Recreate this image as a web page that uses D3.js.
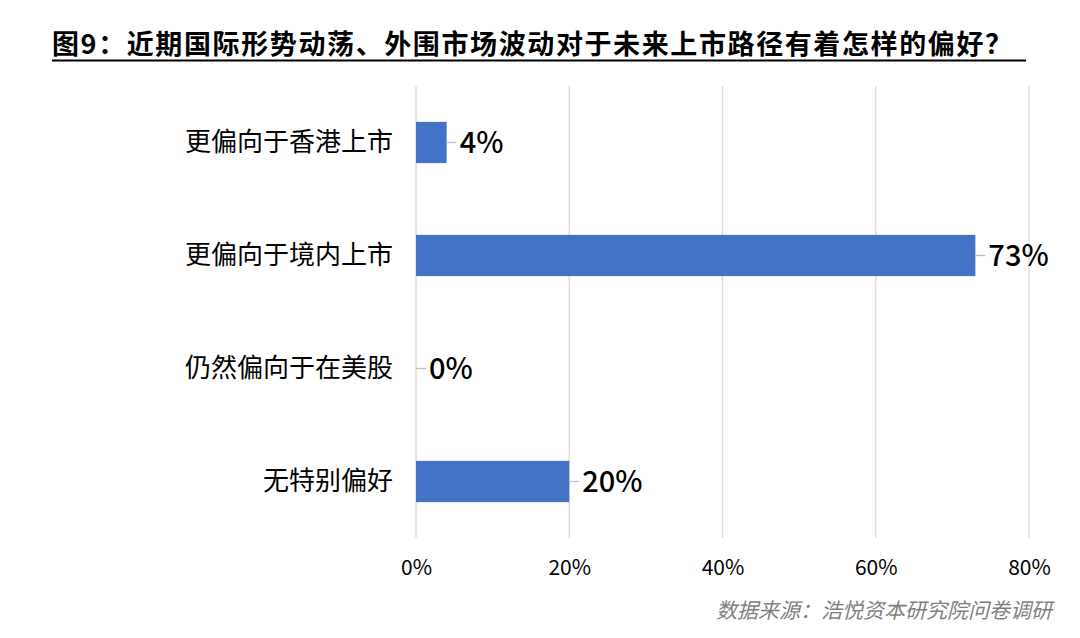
<!DOCTYPE html>
<html>
<head>
<meta charset="utf-8">
<script src="https://cdn.jsdelivr.net/npm/d3@7"></script>
<style>
  body { margin: 0; background: #fff; }
  text { font-family: "Noto Sans CJK SC", "Noto Sans", sans-serif; }
</style>
</head>
<body>
<svg class="chart"></svg>
<script>
// categories and shares (percent)
var categories = ["更偏向于香港上市", "更偏向于境内上市", "仍然偏向于在美股", "无特别偏好"];
var values = [4, 73, 0, 20];
var tickValues = [0, 20, 40, 60, 80];
var title = "图9：近期国际形势动荡、外围市场波动对于未来上市路径有着怎样的偏好？";
var source = "数据来源：浩悦资本研究院问卷调研";

var W = 1080, H = 638;
var margin = {top: 86, right: 51, bottom: 100, left: 416},
    width = W - margin.left - margin.right,
    height = H - margin.top - margin.bottom;

var svg = d3.select(".chart")
    .attr("width", W)
    .attr("height", H);

var x = d3.scaleLinear().domain([0, 80]).range([0, width]);
var y = d3.scaleBand().domain(categories).range([0, height]).paddingInner(0.635).paddingOuter(0.3175);

// title, underlined
svg.append("text")
    .attr("x", 52).attr("y", 54)
    .attr("textLength", 960).attr("lengthAdjust", "spacing")
    .style("font-size", "27px").style("font-weight", "bold")
    .attr("fill", "#000")
    .text(title);
svg.append("line")
    .attr("x1", 52).attr("x2", 1026)
    .attr("y1", 60.5).attr("y2", 60.5)
    .attr("stroke", "#000").attr("stroke-width", 2);

var main = svg.append("g")
    .attr("transform", "translate(" + margin.left + "," + margin.top + ")");

// grid
main.selectAll(".grid")
    .data(tickValues)
  .enter().append("line")
    .attr("x1", function(d) { return x(d); })
    .attr("x2", function(d) { return x(d); })
    .attr("y1", 0).attr("y2", height)
    .attr("stroke", "#d9d9d9").attr("stroke-width", 1.3);

// x axis labels
var xAxis = d3.axisBottom(x).tickValues(tickValues).tickSize(0).tickPadding(0)
    .tickFormat(function(d) { return d + "%"; });
var gx = main.append("g")
    .attr("transform", "translate(0," + (height + 37) + ")")
    .call(xAxis);
gx.select(".domain").remove();
gx.selectAll("text").style("font-size", "21px").attr("fill", "#000")
    .attr("font-family", "Noto Sans CJK SC").attr("dy", "0");

// y axis labels
var yAxis = d3.axisLeft(y).tickSize(0).tickPadding(23);
var gy = main.append("g").call(yAxis);
gy.select(".domain").remove();
gy.selectAll("text").style("font-size", "26px").attr("fill", "#000")
    .attr("font-family", "Noto Sans CJK SC");

// bars
main.selectAll(".bar")
    .data(values)
  .enter().append("rect")
    .attr("x", 0)
    .attr("y", function(d, i) { return y(categories[i]); })
    .attr("width", function(d) { return x(d); })
    .attr("height", y.bandwidth())
    .attr("fill", "#4472c4");

// leader lines
main.selectAll(".leader")
    .data(values)
  .enter().append("line")
    .attr("x1", function(d) { return x(d); })
    .attr("x2", function(d) { return x(d) + 10; })
    .attr("y1", function(d, i) { return y(categories[i]) + y.bandwidth() / 2; })
    .attr("y2", function(d, i) { return y(categories[i]) + y.bandwidth() / 2; })
    .attr("stroke", "#bfbfbf").attr("stroke-width", 1.3);

// value labels
main.selectAll(".val")
    .data(values)
  .enter().append("text")
    .attr("x", function(d) { return x(d) + 13; })
    .attr("y", function(d, i) { return y(categories[i]) + y.bandwidth() / 2; })
    .attr("dy", "0.36em")
    .style("font-size", "29px").style("font-weight", "500")
    .attr("fill", "#000")
    .text(function(d) { return d + "%"; });

// source
svg.append("text")
    .attr("x", 1052).attr("y", 618)
    .attr("text-anchor", "end")
    .style("font-size", "21px").style("font-style", "italic")
    .attr("fill", "#7f7f7f")
    .text(source);
</script>
</body>
</html>
